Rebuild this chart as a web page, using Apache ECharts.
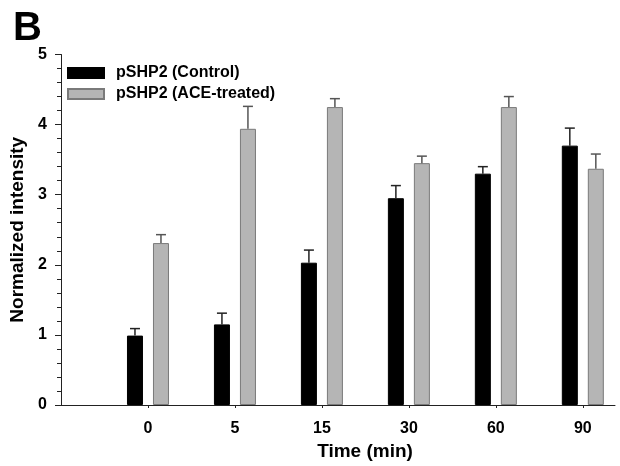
<!DOCTYPE html>
<html>
<head>
<meta charset="utf-8">
<title>pSHP2</title>
<script src="https://cdn.jsdelivr.net/npm/echarts@6/dist/echarts.min.js"></script>
<style>
	body { margin: 0; background: #fff; }
	#main { width: 620px; height: 466px; }
</style>
</head>
<body>
<div id="main"></div>
<script>
// time points (min)
var timeLabels = ['0', '5', '15', '30', '60', '90'];
var controlMean = [0.99, 1.15, 2.03, 2.95, 3.30, 3.70];
var controlErr = [0.10, 0.16, 0.18, 0.18, 0.10, 0.25];
var aceMean = [2.31, 3.94, 4.25, 3.45, 4.25, 3.37];
var aceErr = [0.12, 0.32, 0.12, 0.10, 0.15, 0.21];
var seriesNames = ['pSHP2 (Control)', 'pSHP2 (ACE-treated)'];

var barW = 16;
var barGapPx = 10;

window.onload = function () {
	makeimage();
}

function makeimage(){
	var myChart = echarts.init(document.getElementById('main'));
	var off = (barW + barGapPx) / 2;

	// x positions 1..6, slot 0 left empty like the original figure
	var ctrlData = [], aceData = [], ctrlErrData = [], aceErrData = [], tickPos = [];
	for (var i = 0; i < timeLabels.length; i++) {
		tickPos.push(i + 1);
		ctrlData.push([i + 1, controlMean[i]]);
		aceData.push([i + 1, aceMean[i]]);
		ctrlErrData.push([i + 1, controlMean[i], controlErr[i]]);
		aceErrData.push([i + 1, aceMean[i], aceErr[i]]);
	}

	function errbar(dx, color){
		return function (params, api) {
			var x = api.value(0);
			var base = api.coord([x, api.value(1)]);
			var top = api.coord([x, api.value(1) + api.value(2)]);
			var cx = base[0] + dx;
			var st = { stroke: color, lineWidth: 1.5 };
			return {
				type: 'group',
				children: [
					{ type: 'line', shape: { x1: cx, y1: base[1], x2: cx, y2: top[1] }, style: st },
					{ type: 'line', shape: { x1: cx - 5, y1: top[1], x2: cx + 5, y2: top[1] }, style: st }
				]
			};
		};
	}

	var fnt = 'Liberation Sans, Arial, sans-serif';

	myChart.setOption({
		animation: false,
		title: {
			text: 'B',
			left: 8,
			top: 4,
			textStyle: { fontSize: 40, fontWeight: 'bold', fontFamily: fnt, color: '#000' }
		},
		legend: {
			orient: 'vertical',
			left: 67,
			top: 65,
			padding: 0,
			icon: 'rect',
			itemWidth: 36,
			itemHeight: 10,
			itemGap: 5,
			data: seriesNames,
			textStyle: { fontSize: 16, fontWeight: 'bold', fontFamily: fnt, color: '#000', padding: [0, 0, 0, 7] }
		},
		grid: { left: 61, right: 5, top: 54.5, bottom: 59 },
		xAxis: {
			type: 'value',
			min: 0,
			max: 6.37,
			name: 'Time (min)',
			nameLocation: 'middle',
			nameGap: 37,
			nameTextStyle: { fontSize: 19, fontWeight: 'bold', fontFamily: fnt, color: '#000', padding: [0, 0, 0, 54] },
			splitLine: { show: false },
			axisLine: { lineStyle: { color: '#222', width: 1 } },
			axisTick: { length: 3, customValues: tickPos, lineStyle: { color: '#222' } },
			axisLabel: {
				margin: 16,
				customValues: tickPos,
				fontSize: 16, fontWeight: 'bold', fontFamily: fnt, color: '#000',
				formatter: function (v) {
					return timeLabels[Math.round(v) - 1];
				}
			}
		},
		yAxis: {
			type: 'value',
			min: 0,
			max: 5,
			interval: 1,
			name: 'Normalized intensity',
			nameLocation: 'middle',
			nameGap: 29,
			nameTextStyle: { fontSize: 19, fontWeight: 'bold', fontFamily: fnt, color: '#000' },
			splitLine: { show: false },
			axisLine: { show: true, lineStyle: { color: '#222', width: 1 } },
			axisTick: { show: true, length: 6, lineStyle: { color: '#222' } },
			minorTick: { show: true, splitNumber: 5, length: 4, lineStyle: { color: '#222' } },
			axisLabel: { margin: 14, fontSize: 16, fontWeight: 'bold', fontFamily: fnt, color: '#000' }
		},
		series: [
			{
				name: seriesNames[0],
				type: 'bar',
				barWidth: barW,
				barGap: (barGapPx / barW * 100) + '%',
				itemStyle: { color: '#000', borderColor: '#000', borderWidth: 1 },
				data: ctrlData
			},
			{
				name: seriesNames[1],
				type: 'bar',
				barWidth: barW,
				itemStyle: { color: '#b5b5b5', borderColor: '#7a7a7a', borderWidth: 1 },
				data: aceData
			},
			{
				type: 'custom',
				renderItem: errbar(-off, '#222'),
				data: ctrlErrData,
				z: 3
			},
			{
				type: 'custom',
				renderItem: errbar(off, '#555'),
				data: aceErrData,
				z: 3
			}
		]
	});
}
</script>
</body>
</html>
